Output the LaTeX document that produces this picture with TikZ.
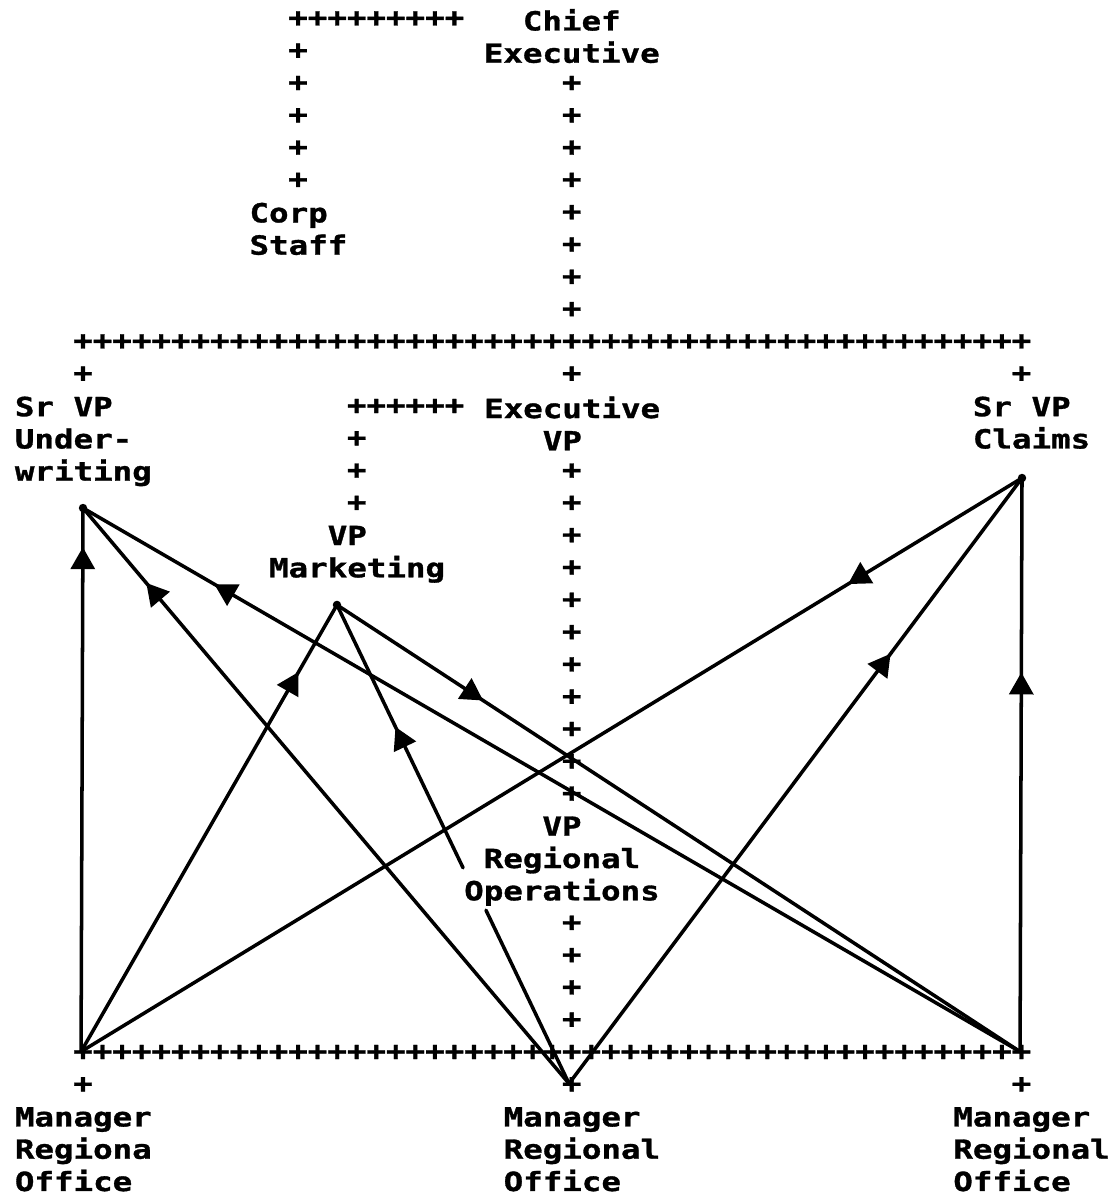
\documentclass[tikz,border=0pt]{standalone}
\usepackage{fontspec}
\newfontfamily\dotfont[FakeStretch=1.232, BoldFeatures={FakeBold=1.2}]{DejaVu Sans Mono}
\usetikzlibrary{arrows.meta, decorations.markings}

\tikzset{
  lbl/.style={font=\fontsize{15pt}{18.37pt}\dotfont\bfseries, inner sep=0pt, align=left, anchor=north west},
  pls/.style={font=\fontsize{15pt}{18.37pt}\dotfont\bfseries, inner sep=0pt},
  flow/.style={line width=2pt, line cap=round, line join=round},
  midarrow/.style={flow, postaction={decorate},
    decoration={markings, mark=at position #1 with {\arrow{Triangle[length=0.44cm, width=0.48cm]}}}},
  dot/.style={fill=black}
}

\begin{document}
\begin{tikzpicture}[x=0.391cm, y=-0.646cm]
\useasboundingbox (-4.246,-0.588) rectangle (52.481,36.409);

% Offices
\node[lbl, align=center, anchor=north] (chief) at (25,-0.32) {Chief\\Executive};
\node[lbl] (corp) at (8.5,5.68) {Corp\\Staff};
\node[lbl] (uw) at (-3.5,11.68) {Sr VP\\Under-\\writing};
\node[lbl] (evp) at (20.5,11.68) {Executive\\~~~VP};
\node[lbl] (claims) at (45.5,11.68) {Sr VP\\Claims};
\node[lbl] (mkt) at (9.5,15.68) {~~~VP\\Marketing};
\node[lbl, align=center, anchor=north] (ro) at (24.5,24.68) {VP\\Regional\\Operations};
\node[lbl] (mgrL) at (-3.5,33.68) {Manager\\Regiona\\Office};
\node[lbl] (mgrM) at (21.5,33.68) {Manager\\Regional\\Office};
\node[lbl] (mgrR) at (44.5,33.68) {Manager\\Regional\\Office};

% Formal lines (typed)
\foreach \c in {11,...,19} \node[pls] (cs\c) at (\c,0) {+};
\foreach \r in {1,...,5} \node[pls] (csv\r) at (11,\r) {+};
\foreach \r in {2,...,9} \node[pls] (ce\r) at (25,\r) {+};
\foreach \c in {0,...,48} \node[pls] (bar\c) at (\c,10) {+};
\foreach \c in {0,25,48} \node[pls] (drop\c) at (\c,11) {+};
\foreach \c in {14,...,19} \node[pls] (mk\c) at (\c,12) {+};
\foreach \r in {13,14,15} \node[pls] (mkv\r) at (14,\r) {+};
\foreach \r in {14,...,24} \node[pls] (ev\r) at (25,\r) {+};
\foreach \r in {28,...,31} \node[pls] (rov\r) at (25,\r) {+};
\foreach \c in {0,...,48} \node[pls] (low\c) at (\c,32) {+};
\foreach \c in {0,25,48} \node[pls] (mg\c) at (\c,33) {+};

% Contact points
\coordinate (uwPt) at (0,15.14);
\coordinate (mktPt) at (12.99,18.14);
\coordinate (clPt) at (48.03,14.21);
\coordinate (roUp) at (19.44,26.28);
\coordinate (roDown) at (20.61,27.59);
\coordinate (mgrLPt) at (-0.1,31.97);
\coordinate (mgrMPt) at (24.86,32.96);
\coordinate (mgrRPt) at (47.93,31.97);

% Actual flows
\draw[midarrow=0.928] (mgrLPt) -- (uwPt);
\draw[midarrow=0.87] (mgrMPt) -- (uwPt);
\draw[midarrow=0.86] (mgrRPt) -- (uwPt);
\draw[midarrow=0.85] (mgrLPt) -- (mktPt);
\draw[midarrow=0.536] (roUp) -- (mktPt);
\draw[midarrow=0.214] (mktPt) -- (mgrRPt);
\draw[midarrow=0.185] (clPt) -- (mgrLPt);
\draw[midarrow=0.71] (mgrMPt) -- (clPt);
\draw[midarrow=0.661] (mgrRPt) -- (clPt);
\draw[flow] (roDown) -- (mgrMPt);

\foreach \p in {uwPt, mktPt, clPt} \fill[dot] (\p) circle (2.4pt);

\end{tikzpicture}
\end{document}
